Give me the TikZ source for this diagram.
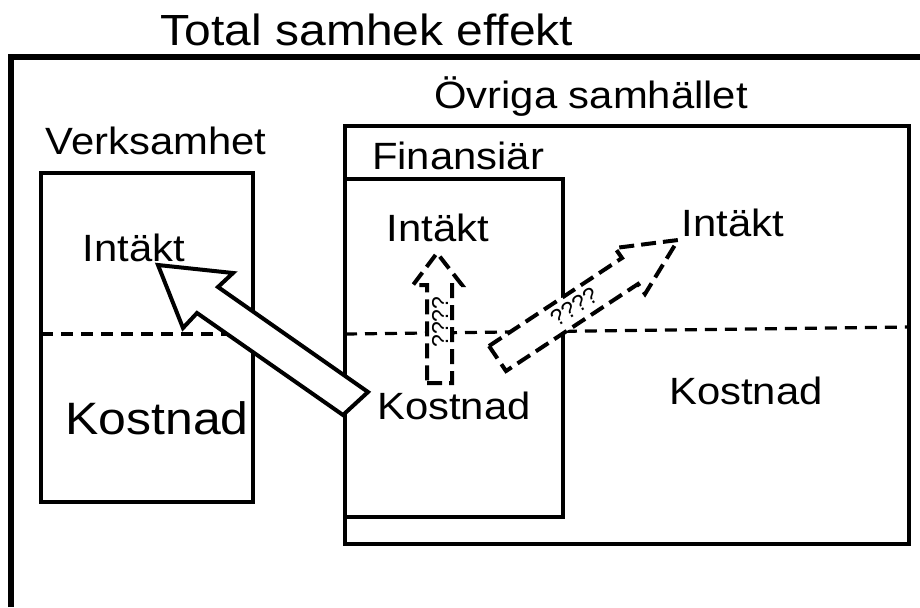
\documentclass[tikz,border=0pt]{standalone}
\usepackage{fontspec}
\setmainfont{Liberation Sans}
\usepackage{graphicx}
\newcommand{\stretchtxt}[1]{\scalebox{1.1}[1]{#1}}
\tikzset{
    frameline/.style={line width=3pt, line join=miter},
    boxline/.style={line width=2pt},
    divline/.style={line width=1.6pt, dash pattern=on 6pt off 4pt},
    bigarrow/.style={line width=2pt, fill=white, line join=miter},
    qarrow/.style={line width=2pt, dash pattern=on 7.5pt off 3.5pt, fill=white},
    lbl/.style={font=\fontsize{19}{23}\selectfont, inner sep=0pt, anchor=base},
    qlbl/.style={font=\fontsize{11.5}{13}\selectfont, inner sep=0pt},
}
\begin{document}
\begin{tikzpicture}[x=0.5pt, y=-0.5pt]
    \useasboundingbox (0,0) rectangle (920,607);

    % Outer frame
    \draw[frameline] (11,607) -- (11,57) -- (920,57);

    % Verksamhet
    \draw[boxline] (41,173) rectangle (253,502);
    \draw[divline] (41,334) -- (253,334);

    % Ovriga samhallet and Finansiar
    \draw[boxline] (345,126) rectangle (909,544);
    \draw[boxline] (345,179) rectangle (563,517);
    \draw[divline] (345,334) -- (909,327);

    % Big arrow from Kostnad to Intakt
    \draw[bigarrow] (158,265) -- (233,273) -- (218,287) -- (368,392)
        -- (343,415) -- (197,313) -- (183,328) -- cycle;

    % Dashed arrows
    \draw[qarrow] (427,383) -- (452,383) -- (452,285) -- (462,285)
        -- (437,253) -- (413,285) -- (427,285) -- cycle;
    \node[qlbl, rotate=90] (qup) at (440,322) {????};
    \draw[qarrow] (489,346) -- (622,258) -- (615,248) -- (678,240)
        -- (645,294) -- (638,284) -- (506,371) -- cycle;
    \node[qlbl, rotate=33] (qside) at (574,307) {????};

    % Labels
    \node[lbl, font=\fontsize{21.8}{26}\selectfont] (total) at (367,45) {\stretchtxt{Total samhek effekt}};
    \node[lbl] (verks) at (156,154) {\stretchtxt{Verksamhet}};
    \node[lbl] (ovriga) at (591,108) {\stretchtxt{Övriga samhället}};
    \node[lbl] (finans) at (458,169) {\stretchtxt{Finansiär}};
    \node[lbl] (intv) at (134,261) {\stretchtxt{Intäkt}};
    \node[lbl] (intf) at (438,241) {\stretchtxt{Intäkt}};
    \node[lbl] (into) at (733,236) {\stretchtxt{Intäkt}};
    \node[lbl, font=\fontsize{22.7}{27}\selectfont] (kostv) at (157,434) {\stretchtxt{Kostnad}};
    \node[lbl] (kostf) at (454,419) {\stretchtxt{Kostnad}};
    \node[lbl] (kosto) at (746,404) {\stretchtxt{Kostnad}};
\end{tikzpicture}
\end{document}
